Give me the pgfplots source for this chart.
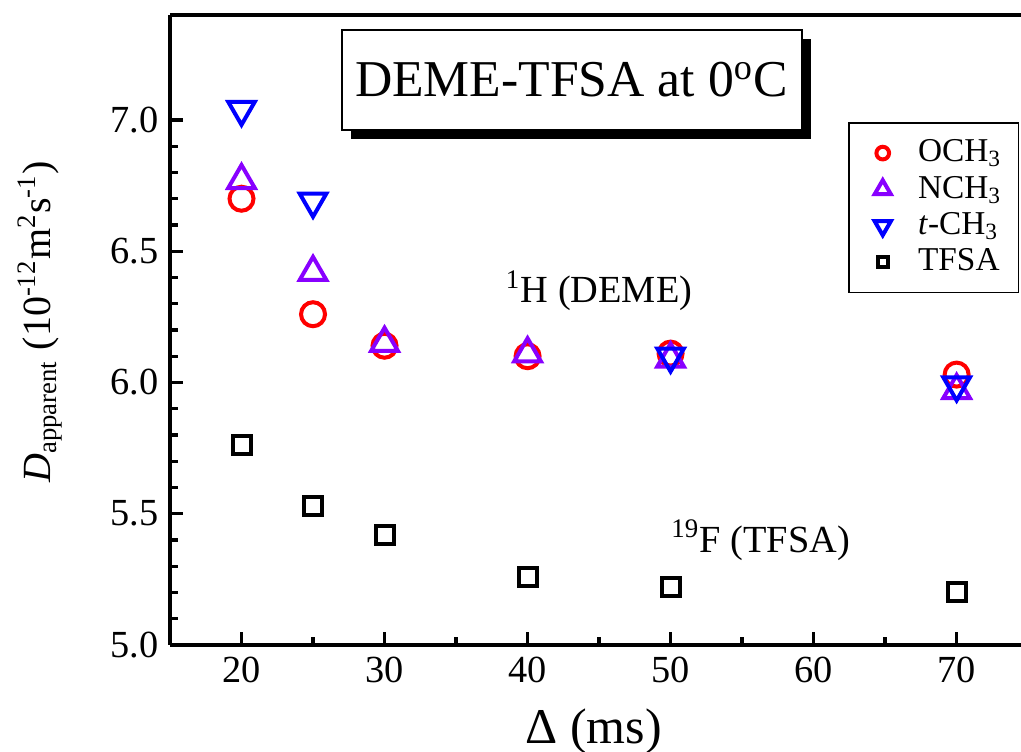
\documentclass[border=0pt]{standalone}
\usepackage{fontspec}
\setmainfont{Liberation Serif}
\usepackage{pgfplots}
\pgfplotsset{compat=1.18}
\usetikzlibrary{shadows}
\definecolor{mred}{RGB}{255,0,0}
\definecolor{mpurple}{RGB}{136,0,255}
\definecolor{mblue}{RGB}{0,0,255}
\begin{document}
\begin{tikzpicture}
\begin{axis}[
  scale only axis, width=255.3pt, height=189pt,
  xmin=15, xmax=74.5, ymin=5.0, ymax=7.4,
  axis x line*=box, axis y line*=left,
  xtick={20,30,40,50,60,70}, minor x tick num=1,
  ytick={5.0,5.5,6.0,6.5,7.0}, minor y tick num=4,
  xtick pos=left, ytick pos=left,
  tick align=inside,
  major tick length=4pt, minor tick length=2.4pt,
  every tick/.style={line width=1pt, black},
  axis line style={line width=1pt},
  /pgf/number format/assume math mode=true,
  yticklabel style={/pgf/number format/.cd, fixed, fixed zerofill, precision=1},
  xticklabel style={/pgf/number format/.cd, fixed, precision=0},
  tick label style={font=\fontsize{11.5}{12}\selectfont},
  xlabel={Δ (ms)},
  xlabel style={at={(axis description cs:0.498,-0.138)}, anchor=center, font=\fontsize{15}{16}\selectfont},
  ylabel={\textit{D}\textsubscript{apparent} (10\textsuperscript{-12}m\textsuperscript{2}s\textsuperscript{-1})},
  ylabel style={at={(axis description cs:-0.153,0.513)}, anchor=center, rotate=0, font=\fontsize{12}{14}\selectfont},
  legend image code/.code={\path (-6.5pt,0pt) (8pt,0pt); \draw[#1] plot coordinates {(0pt,0pt)};},
  legend style={at={(axis description cs:0.998,0.830)}, anchor=north east, draw=black, line width=0.5pt,
    font=\fontsize{10}{12}\selectfont, row sep=-1.2pt, inner xsep=3pt, inner ysep=3pt},
  legend cell align=left,
]
\addplot[only marks, mark=o, color=mred, line width=1.2pt, mark size=3.6pt,
  legend image post style={mark size=1.9pt}] coordinates {
  (20,6.70) (25,6.26) (30,6.14) (40,6.10) (50,6.11) (70,6.03)};
\addlegendentry{OCH\textsubscript{3}}
\addplot[only marks, mark=triangle, color=mpurple, line width=1.2pt, mark size=4.6pt,
  legend image post style={mark size=2.8pt}] coordinates {
  (20,6.77) (25,6.42) (30,6.15) (40,6.11) (50,6.09) (70,5.97)};
\addlegendentry{NCH\textsubscript{3}}
\addplot[only marks, mark=triangle, mark options={rotate=180}, color=mblue, line width=1.2pt, mark size=4.6pt,
  legend image post style={mark size=2.8pt}] coordinates {
  (20,7.04) (25,6.69) (50,6.10) (70,5.99)};
\addlegendentry{\textit{t}-CH\textsubscript{3}}
\addplot[only marks, mark=square, color=black, line width=1.2pt, mark size=2.7pt,
  legend image post style={mark size=1.5pt}] coordinates {
  (20,5.763) (25,5.53) (30,5.42) (40,5.26) (50,5.22) (70,5.20)};
\addlegendentry{TFSA}
\node[draw, line width=0.5pt, fill=white,
  drop shadow={shadow xshift=2.7pt, shadow yshift=-2.7pt, opacity=1, fill=black},
  minimum width=138pt, minimum height=30pt, inner sep=0pt,
  font=\fontsize{15.5}{18}\selectfont] at (axis description cs:0.472,0.897)
  {DEME-TFSA at 0\textsuperscript{o}C};
\node[font=\fontsize{11.5}{14}\selectfont] at (axis cs:45.0,6.35) {\textsuperscript{1}H (DEME)};
\node[font=\fontsize{11.5}{14}\selectfont] at (axis cs:56.3,5.40) {\textsuperscript{19}F (TFSA)};
\coordinate (sw) at (rel axis cs:0,0);
\coordinate (ne) at (rel axis cs:1,1);
\end{axis}
\pgfresetboundingbox
\path[use as bounding box] ([xshift=-51pt,yshift=-32.1pt]sw) rectangle ([yshift=4.5pt]ne);
\end{tikzpicture}
\end{document}
